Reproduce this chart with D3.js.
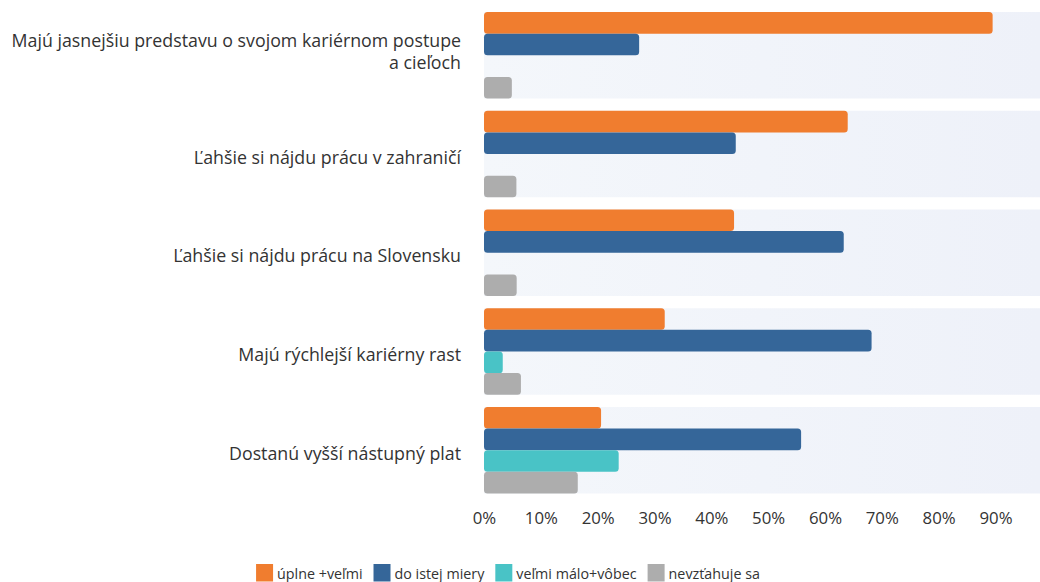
<!DOCTYPE html>
<html>
<head>
<meta charset="utf-8">
<script src="https://cdn.jsdelivr.net/npm/d3@7"></script>
<style>
  html, body { margin: 0; padding: 0; background: #ffffff; }
  svg { display: block; }
  text { font-family: "Open Sans", "Noto Sans", sans-serif; fill: #333333; }
</style>
</head>
<body>
<div id="chart"></div>
<script>
const categories = [
  ["Majú jasnejšiu predstavu o svojom kariérnom postupe", "a cieľoch"],
  ["Ľahšie si nájdu prácu v zahraničí"],
  ["Ľahšie si nájdu prácu na Slovensku"],
  ["Majú rýchlejší kariérny rast"],
  ["Dostanú vyšší nástupný plat"]
];
const seriesNames = ["úplne +veľmi", "do istej miery", "veľmi málo+vôbec", "nevzťahuje sa"];
const uplneVelmi   = [89.5, 64.0, 44.0, 31.8, 20.6];
const doIstejMiery = [27.3, 44.3, 63.3, 68.2, 55.8];
const velmiMalo    = [0, 0, 0, 3.3, 23.7];
const nevztahuje   = [4.9, 5.7, 5.75, 6.5, 16.5];
const tickValues   = [0, 10, 20, 30, 40, 50, 60, 70, 80, 90];
const colors = ["#f07d2f", "#356699", "#49c3c6", "#adadad"];

const W = 1040, H = 582;
const svg = d3.select("#chart").append("svg").attr("width", W).attr("height", H);

const defs = svg.append("defs");
const grad = defs.append("linearGradient").attr("id", "bandGrad")
  .attr("x1", "0%").attr("x2", "100%").attr("y1", "0%").attr("y2", "0%");
grad.append("stop").attr("offset", "0%").attr("stop-color", "#f4f7fb");
grad.append("stop").attr("offset", "100%").attr("stop-color", "#eef1f9");

const catKeys = categories.map((c, i) => i);
const x = d3.scaleLinear().domain([0, 100]).range([484, 484 + 568.3]);
const y = d3.scaleBand().domain(catKeys).range([12, 493.5]).paddingInner(0.124).paddingOuter(0);
const ys = d3.scaleBand().domain(d3.range(seriesNames.length)).range([0, y.bandwidth()]).padding(0);

const series = [uplneVelmi, doIstejMiery, velmiMalo, nevztahuje];

// background bands
svg.append("g").selectAll("rect").data(catKeys).join("rect")
  .attr("x", x(0)).attr("y", d => y(d))
  .attr("width", W - x(0)).attr("height", y.bandwidth())
  .attr("fill", "url(#bandGrad)");

// bars
const groups = svg.append("g").selectAll("g").data(catKeys).join("g")
  .attr("transform", d => `translate(0,${y(d)})`);
groups.selectAll("rect")
  .data(ci => series.map((s, si) => ({ si, v: s[ci] })).filter(d => d.v > 0))
  .join("rect")
  .attr("x", x(0))
  .attr("y", d => ys(d.si))
  .attr("width", d => x(d.v) - x(0))
  .attr("height", ys.bandwidth())
  .attr("rx", 3.5).attr("ry", 3.5)
  .attr("fill", d => colors[d.si]);

// category labels
const lab = svg.append("g").selectAll("text").data(catKeys).join("text")
  .attr("text-anchor", "end")
  .style("font-size", "17.8px");
lab.each(function(ci) {
  const lines = categories[ci];
  const cy = y(ci) + y.bandwidth() / 2;
  const t = d3.select(this);
  lines.forEach((ln, li) => {
    const n = lines.length;
    const base = n === 1 ? cy + 9.5 : cy + 14 - (n - 1 - li) * 22;
    t.append("tspan").attr("x", 461).attr("y", base).text(ln);
  });
});

// x axis tick labels
const axis = d3.axisBottom(x).tickValues(tickValues).tickSize(0).tickPadding(0)
  .tickFormat(d => d + "%");
const gAxis = svg.append("g").attr("transform", "translate(0,511)").call(axis);
gAxis.select(".domain").remove();
gAxis.selectAll("text")
  .attr("dy", 0).attr("y", 13)
  .style("font-size", "16.8px")
  .style("font-family", "'Open Sans', 'Noto Sans', sans-serif")
  .attr("fill", "#333333");

// legend
const leg = svg.append("g");
const items = leg.selectAll("g").data(seriesNames).join("g");
items.append("rect").attr("width", 17).attr("height", 17.5).attr("y", 564)
  .attr("fill", (d, i) => colors[i]);
items.append("text").attr("y", 578.5).attr("x", 21)
  .style("font-size", "14.3px").text(d => d);
const widths = [];
items.each(function() {
  widths.push(d3.select(this).select("text").node().getComputedTextLength());
});
const gap = 11;
const total = d3.sum(widths.map(w => 21 + w)) + gap * (widths.length - 1);
let start = 508 - total / 2;
items.attr("transform", (d, i) => {
  const tx = start;
  start += 21 + widths[i] + gap;
  return `translate(${tx},0)`;
});
</script>
</body>
</html>
